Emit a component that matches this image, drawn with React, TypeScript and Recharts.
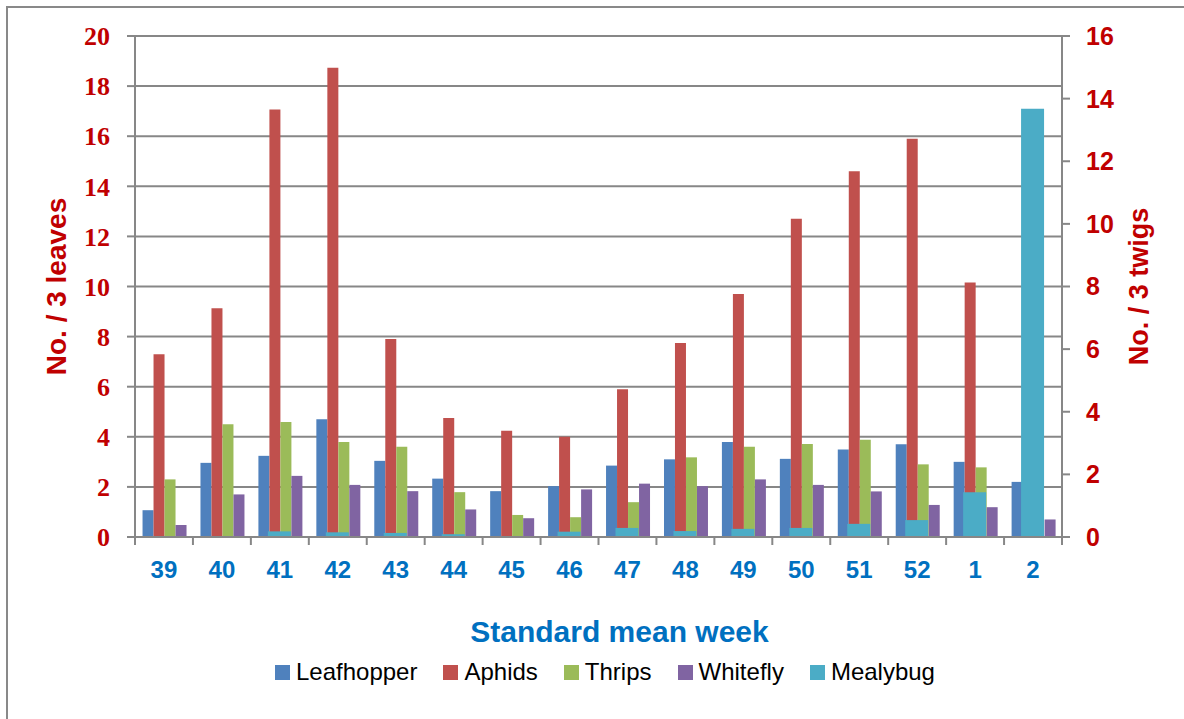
import React from 'react';
import { BarChart, Bar, XAxis, YAxis, CartesianGrid, Legend, Label } from 'recharts';

const weeks = ['39', '40', '41', '42', '43', '44', '45', '46', '47', '48', '49', '50', '51', '52', '1', '2'];
const leafhopper = [1.07, 2.96, 3.24, 4.7, 3.04, 2.33, 1.83, 2.03, 2.85, 3.1, 3.79, 3.12, 3.49, 3.7, 3.0, 2.2];
const aphids = [7.3, 9.13, 17.07, 18.73, 7.9, 4.75, 4.24, 4.0, 5.9, 7.74, 9.7, 12.7, 14.6, 15.9, 10.16, 0];
const thrips = [2.3, 4.5, 4.59, 3.79, 3.6, 1.79, 0.88, 0.79, 1.39, 3.18, 3.6, 3.71, 3.88, 2.9, 2.78, 0];
const whitefly = [0.48, 1.7, 2.44, 2.08, 1.83, 1.1, 0.75, 1.9, 2.13, 2.03, 2.3, 2.08, 1.82, 1.28, 1.19, 0.7];
const mealybug = [0, 0, 0.18, 0.15, 0.13, 0.09, 0, 0.17, 0.29, 0.19, 0.26, 0.29, 0.42, 0.54, 1.43, 13.68];

const leftTicks = [0, 2, 4, 6, 8, 10, 12, 14, 16, 18, 20];
const rightTicks = [0, 2, 4, 6, 8, 10, 12, 14, 16];

const seriesNames = ['Leafhopper', 'Aphids', 'Thrips', 'Whitefly', 'Mealybug'];
const seriesColors = ['#4F81BD', '#C0504D', '#9BBB59', '#8064A2', '#4BACC6'];

const data = weeks.map((w, i) => ({
  week: w,
  Leafhopper: leafhopper[i],
  Aphids: aphids[i],
  Thrips: thrips[i],
  Whitefly: whitefly[i],
  Mealybug: mealybug[i],
}));

const GRID = '#878787';
const RED = '#C00000';
const BLUE = '#0070C0';

const XTick = (props: any) => {
  const { x, y, payload, index } = props;
  const off = payload && typeof payload.offset === 'number' ? payload.offset : 29;
  return (
    <g>
      <line x1={x - off} x2={x - off} y1={y - 8} y2={y} stroke={GRID} strokeWidth={2} />
      {index === weeks.length - 1 ? (
        <line x1={x + off} x2={x + off} y1={y - 8} y2={y} stroke={GRID} strokeWidth={2} />
      ) : null}
      <text
        x={x}
        y={y + 33}
        textAnchor="middle"
        fill={BLUE}
        fontSize={24}
        fontWeight="bold"
        fontFamily="'Liberation Sans', Arial, sans-serif"
      >
        {payload.value}
      </text>
    </g>
  );
};

const LegendContent = () => (
  <div
    style={{
      display: 'flex',
      alignItems: 'center',
      fontFamily: "'Liberation Sans', Arial, sans-serif",
      fontSize: 24,
      color: '#000',
      height: 30,
      whiteSpace: 'nowrap',
    }}
  >
    {seriesNames.map((n, i) => (
      <div key={n} style={{ display: 'flex', alignItems: 'center', marginRight: 26 }}>
        <div style={{ width: 15, height: 15, background: seriesColors[i], marginRight: 6 }} />
        <span>{n}</span>
      </div>
    ))}
  </div>
);

export default function App() {
  return (
    <div
      style={{
        position: 'absolute',
        left: 0,
        top: 0,
        width: 1184,
        height: 719,
        overflow: 'hidden',
        background: '#fff',
      }}
    >
      <div
        style={{
          position: 'absolute',
          left: 6,
          top: 6,
          width: 1300,
          height: 900,
          border: '2px solid #898989',
          boxSizing: 'border-box',
        }}
      />
      <div style={{ position: 'absolute', left: 0, top: 0 }}>
        <BarChart
          width={1184}
          height={719}
          data={data}
          margin={{ top: 36, right: 0, bottom: 87, left: 0 }}
          barGap={0}
          barCategoryGap="13%"
        >
          <CartesianGrid yAxisId="left" xAxisId="main" vertical={false} stroke={GRID} strokeWidth={2} />
          <XAxis
            dataKey="week"
            xAxisId="main"
            type="category"
            height={95}
            axisLine={{ stroke: GRID, strokeWidth: 2 }}
            tickLine={false}
            tickSize={8}
            tickMargin={0}
            interval={0}
            tick={<XTick />}
          >
            <Label
              value="Standard mean week"
              position="center"
              dx={21}
              dy={47}
              fill={BLUE}
              fontSize={30}
              fontWeight="bold"
              fontFamily="'Liberation Sans', Arial, sans-serif"
            />
          </XAxis>
          <XAxis dataKey="week" xAxisId="m" type="category" hide height={0} />
          <YAxis
            yAxisId="left"
            orientation="left"
            width={135}
            domain={[0, 20]}
            ticks={leftTicks}
            interval={0}
            axisLine={{ stroke: GRID, strokeWidth: 2 }}
            tickLine={{ stroke: GRID, strokeWidth: 2 }}
            tickSize={8}
            tickMargin={17}
            tick={{ fill: RED, fontSize: 26, fontWeight: 'bold', fontFamily: "'Liberation Serif', 'Times New Roman', serif" }}
          >
            <Label
              value="No. / 3 leaves"
              position="center"
              angle={-90}
              dx={-11}
              fill={RED}
              fontSize={28}
              fontWeight="bold"
              fontFamily="'Liberation Sans', Arial, sans-serif"
            />
          </YAxis>
          <YAxis
            yAxisId="right"
            orientation="right"
            width={122}
            domain={[0, 16]}
            ticks={rightTicks}
            interval={0}
            axisLine={{ stroke: GRID, strokeWidth: 2 }}
            tickLine={{ stroke: GRID, strokeWidth: 2 }}
            tickSize={8}
            tickMargin={16}
            tick={{ fill: RED, fontSize: 25, fontWeight: 'bold', fontFamily: "'Liberation Sans', Arial, sans-serif" }}
          >
            <Label
              value="No. / 3 twigs"
              position="center"
              angle={-90}
              dx={15}
              fill={RED}
              fontSize={27}
              fontWeight="bold"
              fontFamily="'Liberation Sans', Arial, sans-serif"
            />
          </YAxis>
          <Legend
            verticalAlign="middle"
            align="center"
            layout="horizontal"
            content={<LegendContent />}
            wrapperStyle={{ left: 275, top: 657, width: 720, height: 30 }}
          />
          <Bar dataKey="Leafhopper" xAxisId="main" yAxisId="left" fill={seriesColors[0]} isAnimationActive={false} />
          <Bar dataKey="Aphids" xAxisId="main" yAxisId="left" fill={seriesColors[1]} isAnimationActive={false} />
          <Bar dataKey="Thrips" xAxisId="main" yAxisId="left" fill={seriesColors[2]} isAnimationActive={false} />
          <Bar dataKey="Whitefly" xAxisId="main" yAxisId="left" fill={seriesColors[3]} isAnimationActive={false} />
          <Bar dataKey="Mealybug" xAxisId="m" yAxisId="right" barSize={23} fill={seriesColors[4]} isAnimationActive={false} />
        </BarChart>
      </div>
    </div>
  );
}
